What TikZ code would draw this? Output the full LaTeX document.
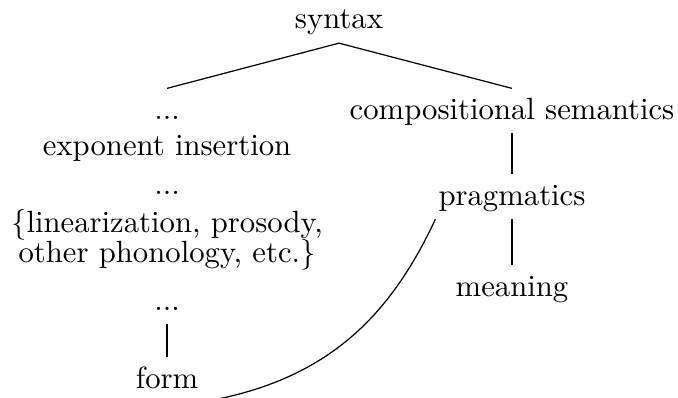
\documentclass[tikz,border=0pt]{standalone}
\usepackage{amsfonts, amsmath, amssymb}
\usepackage{tikz}

\tikzset{stage/.style={anchor=base, text height=1.5ex, text depth=.25ex}}

\begin{document}
\begin{tikzpicture}
        %\draw[step=1cm,gray,very thin] (0,0) grid (8,5);
        \useasboundingbox (0,0) rectangle (7.76,4.546);

        \node[stage] (syntax) at (3.88,4.214) {syntax};

        \node[stage] (dots_a) at (1.912,3.183) {...};
        \node[stage] (expins) at (1.912,2.771) {exponent insertion};
        \node[stage] (dots_b) at (1.912,2.324) {...};
        \node[anchor=base] (lin_a) at (1.912,1.889) {\{linearization, prosody,};
        \node[anchor=base] (lin_b) at (1.912,1.546) {other phonology, etc.\}};
        \node[stage] (dots_c) at (1.912,0.996) {...};
        \node[stage] (form) at (1.912,0.103) {form};

        \node[stage] (compsem) at (5.86,3.183) {compositional semantics};
        \node[stage] (prag) at (5.86,2.198) {pragmatics};
        \node[stage] (meaning) at (5.86,1.156) {meaning};

        \draw (syntax.south) -- (dots_a.north);
        \draw (syntax.south) -- (compsem.north);
        \draw (compsem.south) -- (prag.north);
        \draw (prag.south) -- (meaning.north);
        \draw (dots_c.south) -- (form.north);

        \coordinate (c_start) at ([xshift=2.5pt]prag.south west);
        \coordinate (c_end) at ([xshift=3.5pt,yshift=1.2pt]form.south east);
        \draw (c_start) .. controls +(-115:1.2) and +(12:1.3) .. (c_end);
\end{tikzpicture}
\end{document}
